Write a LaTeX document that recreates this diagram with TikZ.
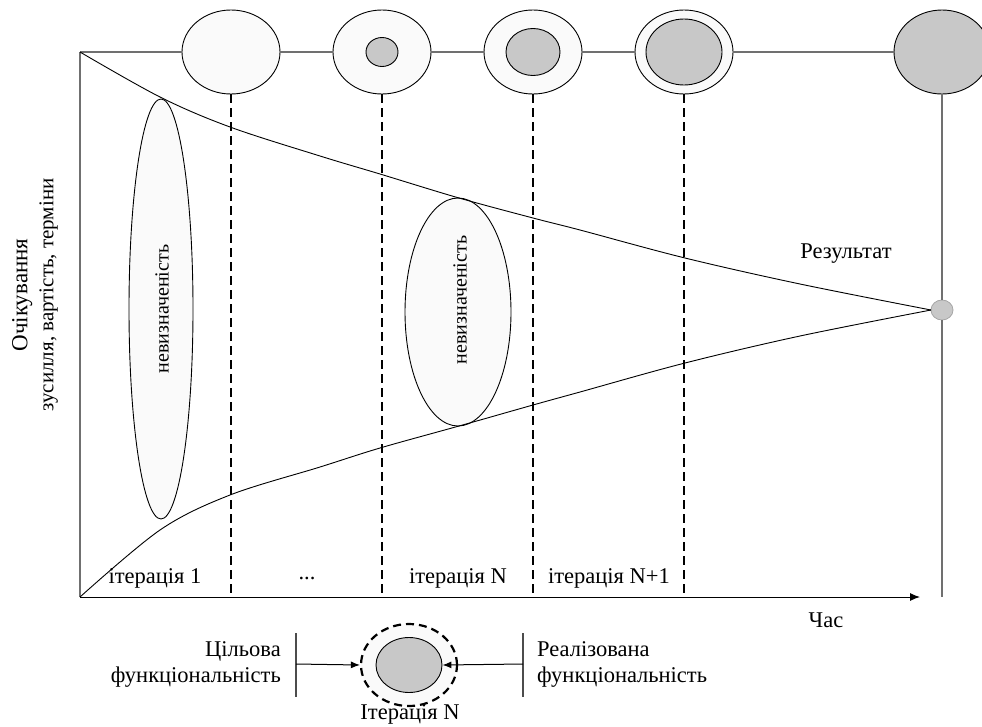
\documentclass[tikz,border=0pt]{standalone}
\usepackage{fontspec}
\setmainfont{Liberation Serif}
\usetikzlibrary{shapes.geometric,arrows.meta}
\definecolor{lightfill}{HTML}{FAFAFA}
\definecolor{grayfill}{HTML}{C8C8C8}
\definecolor{linegray}{HTML}{707070}
\begin{document}
\begin{tikzpicture}[x=1pt,y=-1pt,
  font=\fontsize{22.5}{26}\selectfont,
  outer/.style={ellipse, draw=black, line width=0.9pt, fill=lightfill, minimum width=98pt, minimum height=84pt, inner sep=0pt},
  inner/.style={ellipse, draw=black, line width=0.9pt, fill=grayfill, inner sep=0pt},
  conn/.style={draw=linegray, line width=1.4pt},
  frame/.style={draw=linegray, line width=1.1pt},
  iterline/.style={line width=2.4pt, dash pattern=on 9pt off 5pt},
  curve/.style={line width=0.9pt},
  uncert/.style={ellipse, draw=black, line width=0.9pt, fill=lightfill, inner sep=0pt},
  lbl/.style={inner sep=0pt},
  tip/.style={line width=1pt, -{Latex[length=9pt,width=7pt]}}
]
\useasboundingbox (0,0) rectangle (982,726);

% frame coordinates
\coordinate (TL) at (80,52);
\coordinate (O) at (80,597);
\coordinate (XE) at (920,597);

% uncertainty ellipses
\node[uncert, minimum width=64pt, minimum height=420pt] (u1) at (161,309) {};
\node[lbl, rotate=90, font=\fontsize{20}{24}\selectfont] (u1t) at (162,309) {невизначеність};
\node[uncert, minimum width=106pt, minimum height=228pt] (u2) at (458,312) {};
\node[lbl, rotate=90, font=\fontsize{20}{24}\selectfont] (u2t) at (460,300) {невизначеність};

% top circles
\node[outer] (c1) at (231,52) {};
\node[outer] (c2) at (382,52) {};
\node[inner, minimum width=32pt, minimum height=29pt] (c2i) at (c2) {};
\node[outer] (c3) at (533,52) {};
\node[inner, minimum width=54pt, minimum height=47pt] (c3i) at (c3) {};
\node[outer] (c4) at (684,52) {};
\node[inner, minimum width=76pt, minimum height=66pt] (c4i) at (c4) {};
\node[inner, minimum width=96pt, minimum height=84pt] (c5) at (942,52) {};

% result point
\node[ellipse, draw=black!35, line width=0.8pt, fill=grayfill, minimum width=22pt, minimum height=20pt, inner sep=0pt] (res) at (942,310) {};

% connecting lines
\draw[conn] (TL) -- (c1.west);
\draw[conn] (c1.east) -- (c2.west);
\draw[conn] (c2.east) -- (c3.west);
\draw[conn] (c3.east) -- (c4.west);
\draw[conn] (c4.east) -- (c5.west);
\draw[frame] (TL) -- (O);
\draw[frame] (c5.south) -- (res.north);
\draw[frame] (res.south) -- (c5.south |- O);
\draw[line width=1pt, -{Latex[length=10pt,width=8pt]}] (O) -- (XE);

% iteration borders
\draw[iterline] (c1.south) -- (c1.south |- O);
\draw[iterline] (c2.south) -- (c2.south |- O);
\draw[iterline] (c3.south) -- (c3.south |- O);
\draw[iterline] (c4.south) -- (c4.south |- O);

% cone curves
\draw[curve] plot[smooth, tension=0.55] coordinates {(80,52) (160,97) (230,127) (320,156) (380,174) (459,198) (533,218) (580,230) (685,258) (800,284) (931,310)};
\draw[curve] plot[smooth, tension=0.55] coordinates {(80,597) (160,530) (230,495) (320,467) (380,448) (459,426) (533,405) (580,392) (685,363) (800,336) (931,310)};

% labels
\node[lbl] (l1) at (155,578) {ітерація 1};
\node[lbl] (l2) at (307,578) {...};
\node[lbl] (l3) at (458,578) {ітерація N};
\node[lbl] (l4) at (609,578) {ітерація N+1};
\node[lbl] (res_l) at (846,254) {Результат};
\node[lbl] (time) at (826,620) {Час};
\node[lbl, rotate=90, align=center] (yl) at (35,295) {{\fontsize{23}{26}\selectfont Очікування}\\{\fontsize{21}{26}\selectfont зусилля, вартість, терміни}};

% legend
\node[ellipse, draw=black, line width=2.2pt, dash pattern=on 8pt off 5pt, fill=lightfill, minimum width=96pt, minimum height=82pt, inner sep=0pt] (it) at (409,665) {};
\node[inner, minimum width=66pt, minimum height=55pt] (iti) at (it) {};
\coordinate (lt) at (296,633);
\coordinate (lb) at (296,697);
\coordinate (la) at (296,664);
\coordinate (rt) at (523,633);
\coordinate (rb) at (523,697);
\coordinate (ra) at (523,664);
\draw[line width=1.1pt, draw=black!70] (lt) -- (lb);
\draw[line width=1.1pt, draw=black!70] (rt) -- (rb);
\draw[tip] (la) -- (it.west);
\draw[tip] (ra) -- (iti.east);
\node[lbl, anchor=east, align=right] (target) at (281,664) {Цільова\\функціональність};
\node[lbl, anchor=west, align=left] (real) at (537,664) {Реалізована\\функціональність};
\node[lbl] (itN) at (410,714) {Ітерація N};
\end{tikzpicture}
\end{document}
